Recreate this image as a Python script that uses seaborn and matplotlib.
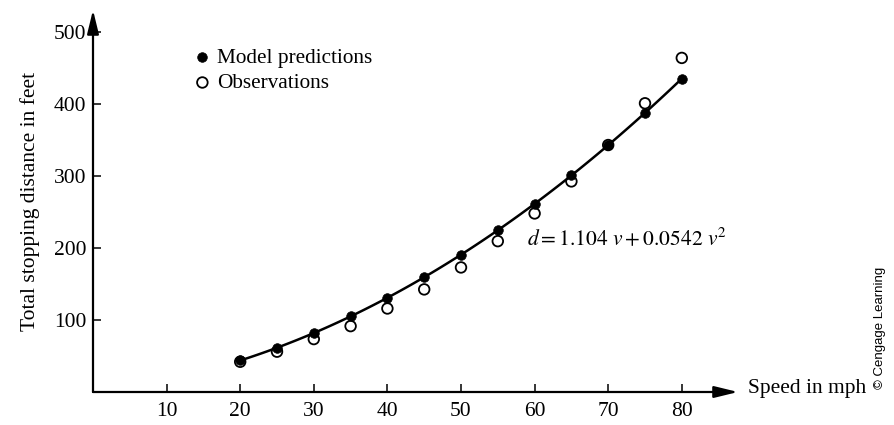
import matplotlib
matplotlib.use("Agg")
import matplotlib.pyplot as plt
import seaborn as sns
import numpy as np

# ---- data ----
speed_mph = [20, 25, 30, 35, 40, 45, 50, 55, 60, 65, 70, 75, 80]
model_predictions = [43.8, 61.5, 81.9, 105.0, 130.9, 159.4, 190.7, 224.7, 261.4, 300.8, 342.9, 387.7, 435.2]
observations = [42, 56, 73.5, 91.5, 116, 142.5, 173, 209.5, 248, 292.5, 343, 401, 464]
x_ticks = [10, 20, 30, 40, 50, 60, 70, 80]
y_ticks = [100, 200, 300, 400, 500]

sns.set_theme(style="white")
plt.rcParams["font.family"] = ["Liberation Serif", "DejaVu Serif"]
plt.rcParams["mathtext.fontset"] = "stix"

W, H = 895, 425
fig = plt.figure(figsize=(W / 100, H / 100), dpi=100)

# axes geometry in pixels
ox, oy = 93, 392          # origin
x_tip, y_tip = 738, 10    # arrow tips
px_per_mph, px_per_ft = 7.36, 0.72
ax = fig.add_axes([ox / W, (H - oy) / H, (x_tip - ox) / W, (oy - y_tip) / H])
ax.set_xlim(0, (x_tip - ox) / px_per_mph)
ax.set_ylim(0, (oy - y_tip) / px_per_ft)
ax.set_facecolor("white")

# fitted curve
sns.regplot(x=speed_mph, y=model_predictions, order=2, ci=None, scatter=False,
            color="black", line_kws={"lw": 1.8, "zorder": 2}, ax=ax)
# model predictions (filled) and observations (open)
sns.scatterplot(x=speed_mph, y=model_predictions, color="black", edgecolor="black",
                s=48, linewidth=0.5, label="Model predictions", zorder=3, ax=ax)
sns.scatterplot(x=speed_mph, y=observations, color="black", edgecolor="black",
                s=58, linewidth=1.3, label="Observations", zorder=4, ax=ax)
ax.collections[-1].set_facecolor("none")

# axes as arrows
for s in ax.spines.values():
    s.set_visible(False)
arrow_kw = dict(arrowstyle="-|>,head_length=0.9,head_width=0.22", lw=1.6, color="black",
                mutation_scale=16, shrinkA=0, shrinkB=0)
ax.annotate("", xy=(1, 0), xytext=(0, 0), xycoords="axes fraction", arrowprops=arrow_kw,
            annotation_clip=False)
ax.annotate("", xy=(0, 1), xytext=(0, 0), xycoords="axes fraction", arrowprops=arrow_kw,
            annotation_clip=False)

ax.set_xticks(x_ticks)
ax.set_yticks(y_ticks)
ax.tick_params(axis="both", direction="in", length=6, width=1.1, color="black",
               labelsize=15.5, labelcolor="black")
ax.tick_params(axis="x", pad=7)
ax.tick_params(axis="y", pad=5)
ax.tick_params(bottom=True, left=True)

ax.set_ylabel("Total stopping distance in feet", fontsize=15.5, color="black", labelpad=10)
ax.set_xlabel("")

ax.text(59, 213, r"$d = 1.104\ v + 0.0542\ v^2$", fontsize=15.5, ha="left", va="center",
        color="black")
fig.text((x_tip + 10) / W, 1 - (oy - 4) / H, "Speed in mph", fontsize=15.5, ha="left",
         va="center", color="black")
fig.text(880 / W, 1 - 328 / H, "© Cengage Learning", fontsize=9.5, rotation=90,
         family="Liberation Sans", ha="center", va="center", color="black")

leg = ax.legend(loc="upper left", bbox_to_anchor=(196 / W, 1 - 48 / H),
                bbox_transform=fig.transFigure, frameon=False, fontsize=15.3,
                handlelength=0.6, handletextpad=0.4, labelspacing=0.25, borderpad=0,
                borderaxespad=0)
for t in leg.get_texts():
    t.set_color("black")

fig.savefig("out.png", dpi=100, facecolor="white")
